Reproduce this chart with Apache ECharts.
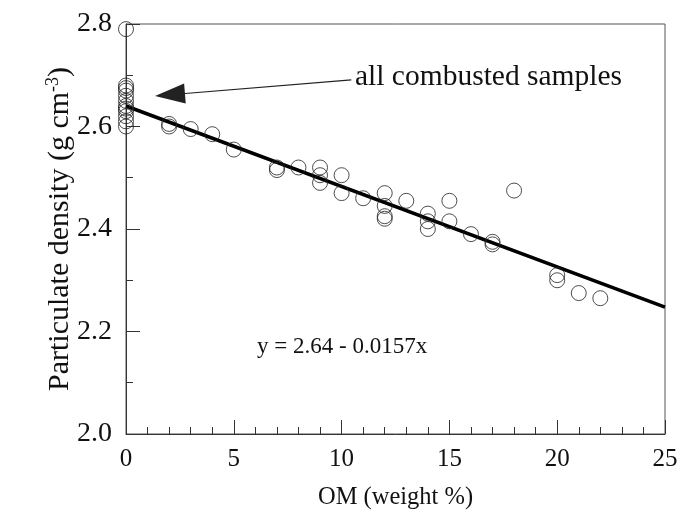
<!DOCTYPE html>
<html><head><meta charset="utf-8">
<script src="https://cdn.jsdelivr.net/npm/echarts@6/dist/echarts.min.js"></script>
<style>html,body{margin:0;padding:0;background:#fff}#c{width:697px;height:522px}</style>
</head><body><div id="c"></div>
<script>
// OM (weight %) values and particulate density (g cm-3)
const omValues = [0,0,0,0,0,0,0,0,0,0,0,0,
  2,2,3,4,5,7,7,8,9,9,9,10,10,11,12,12,12,12,13,14,14,14,15,15,16,17,17,18,20,20,21,22];
const densityValues = [2.60,2.61,2.62,2.63,2.635,2.64,2.65,2.66,2.67,2.675,2.68,2.79,
  2.60,2.605,2.595,2.585,2.555,2.52,2.515,2.52,2.52,2.505,2.49,2.505,2.47,2.46,2.47,2.445,2.425,2.42,2.455,2.43,2.415,2.40,2.455,2.415,2.39,2.375,2.37,2.475,2.31,2.30,2.275,2.265];
const fitIntercept = 2.64, fitSlope = -0.0157;
const fitX = [0, 25];
const xTicks = [0,5,10,15,20,25];
const yTicks = [2.0,2.2,2.4,2.6,2.8];
const arrowFrom = [10.45, 2.691], arrowTo = [2.04, 2.662];

const pts = omValues.map((x,i)=>[x, densityValues[i]]);
const fitLine = fitX.map(x=>[x, fitIntercept + fitSlope*x]);
const FONT = 'Liberation Serif';
const chart = echarts.init(document.getElementById('c'));
chart.setOption({
  animation:false,
  backgroundColor:'#fff',
  grid:{left:126,right:32,top:24,bottom:88,show:true,borderColor:'#555',borderWidth:1},
  xAxis:{type:'value',min:0,max:25,interval:5,
    axisLine:{lineStyle:{color:'#333',width:1}},
    axisTick:{inside:true,length:14,lineStyle:{color:'#333'}},
    minorTick:{show:true,splitNumber:5,length:7,lineStyle:{color:'#333'}},
    splitLine:{show:false},
    axisLabel:{fontFamily:FONT,fontSize:25,color:'#111',margin:13},
    name:'OM (weight %)',nameLocation:'middle',nameGap:51,nameMoveOverlap:false,
    nameTextStyle:{fontFamily:FONT,fontSize:24.5,color:'#111'}},
  yAxis:{type:'value',min:2.0,max:2.8,interval:0.2,
    axisLine:{lineStyle:{color:'#333',width:1}},
    axisTick:{inside:true,length:14,lineStyle:{color:'#333'}},
    minorTick:{show:true,splitNumber:2,length:7,lineStyle:{color:'#333'}},
    splitLine:{show:false},
    axisLabel:{fontFamily:FONT,fontSize:28,color:'#111',margin:14,formatter:v=>v.toFixed(1)},
    name:'Particulate density (g cm{s|-3})',nameLocation:'middle',nameGap:50,nameMoveOverlap:false,
    nameTextStyle:{fontFamily:FONT,fontSize:30,color:'#111',
      rich:{s:{fontFamily:FONT,fontSize:18,color:'#111',verticalAlign:'top',padding:[0,0,14,0]}}}},
  series:[
    {type:'scatter',data:pts,symbol:'circle',symbolSize:15,clip:false,
      itemStyle:{color:'rgba(0,0,0,0)',borderColor:'#222',borderWidth:1},z:3},
    {type:'line',data:fitLine,showSymbol:false,symbol:'none',
      lineStyle:{color:'#000',width:3.5},z:2,
      markLine:{silent:true,symbol:['triangle','none'],symbolSize:[20,30],
        label:{show:false},
        lineStyle:{color:'#222',width:1.2,type:'solid'},
        data:[[{coord:arrowTo},{coord:arrowFrom}]]}}
  ],
  graphic:[
    {type:'text',x:355,y:77,style:{text:'all combusted samples',fontFamily:FONT,fontSize:29.5,fill:'#111',textVerticalAlign:'middle',verticalAlign:'middle'}},
    {type:'text',x:257,y:347,style:{text:'y = 2.64 - 0.0157x',fontFamily:FONT,fontSize:23,fill:'#111',textVerticalAlign:'middle',verticalAlign:'middle'}}
  ]
});
</script></body></html>
